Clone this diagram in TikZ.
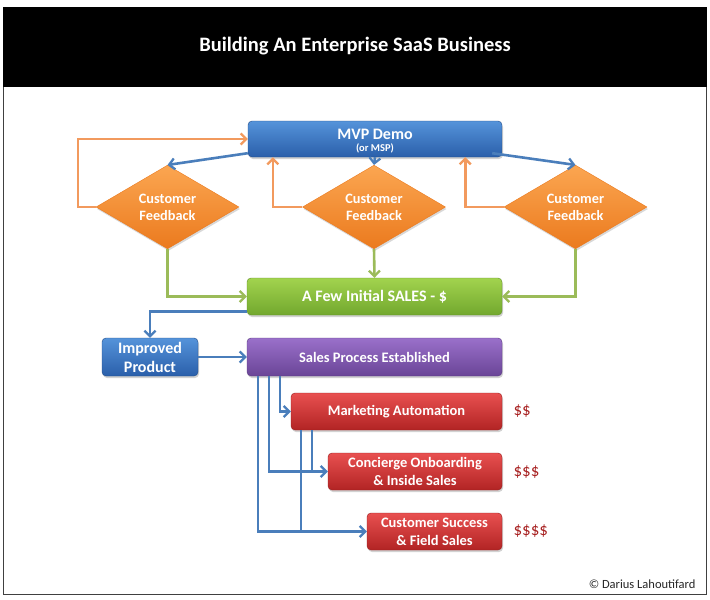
\documentclass[tikz,border=0pt]{standalone}
\usepackage{fontspec}
\setmainfont{Carlito}
\usetikzlibrary{shapes.geometric,arrows.meta,shadows}
\definecolor{mvpT}{HTML}{5593DA}
\definecolor{mvpB}{HTML}{2A5FAA}
\definecolor{orT}{HTML}{FBA651}
\definecolor{orB}{HTML}{EB7A1E}
\definecolor{grT}{HTML}{A2D34E}
\definecolor{grB}{HTML}{72A82E}
\definecolor{puT}{HTML}{9A70CA}
\definecolor{puB}{HTML}{6A4597}
\definecolor{reT}{HTML}{E85050}
\definecolor{reB}{HTML}{B22424}
\definecolor{cblue}{HTML}{4A7EBB}
\definecolor{corange}{HTML}{F29A5E}
\definecolor{cgreen}{HTML}{9BBB59}
\definecolor{cdollar}{HTML}{A82222}
\tikzset{
  box/.style={rectangle, rounded corners=4pt, inner sep=1pt, align=center,
    text=white, font=\bfseries\fontsize{14.5}{17.5}\selectfont,
    drop shadow={shadow xshift=1pt, shadow yshift=-2pt, opacity=0.35}},
  mvpbox/.style={box, top color=mvpT, bottom color=mvpB, draw=mvpB!80!black, line width=0.4pt},
  fbbox/.style={diamond, inner sep=0pt, minimum width=143pt, minimum height=54pt,
    align=center, text=white, font=\bfseries\fontsize{14.3}{17}\selectfont,
    top color=orT, bottom color=orB, draw=orB, line width=0.4pt,
    drop shadow={shadow xshift=1pt, shadow yshift=-2pt, opacity=0.3}},
  greenbox/.style={box, top color=grT, bottom color=grB, draw=grB!85!black, line width=0.4pt},
  purplebox/.style={box, top color=puT, bottom color=puB, draw=puB!85!black, line width=0.4pt},
  redbox/.style={box, top color=reT, bottom color=reB, draw=reB!85!black, line width=0.4pt},
  conn/.style={line width=2.6pt, -{Straight Barb[length=5.5pt,width=11pt,line width=2.3pt]}},
  bluearr/.style={conn, draw=cblue},
  orangearr/.style={conn, draw=corange},
  greenarr/.style={conn, draw=cgreen},
  bluejoin/.style={line width=2.6pt, draw=cblue},
  dollar/.style={anchor=west, text=cdollar, font=\fontsize{17}{19}\selectfont},
}
\begin{document}
\begin{tikzpicture}[x=1pt,y=-1pt]
\useasboundingbox (0,0) rectangle (710,600);
\fill[white] (0,0) rectangle (710,600);
\draw[line width=1pt, draw=black!75] (3.5,7.5) rectangle (706.5,594);
\fill[black] (3,7) rectangle (707,87);
\node[text=white, font=\bfseries\fontsize{20.5}{23}\selectfont] (title) at (355,46) {Building An Enterprise SaaS Business};

\node[mvpbox, minimum width=254pt, minimum height=36pt] (mvp) at (375,139) {};
\node[text=white, align=center, font=\bfseries, inner sep=0pt] (mvptext) at (375,141)
  {\fontsize{16}{16}\selectfont MVP Demo\\[0pt]{\fontsize{10.5}{11}\selectfont (or MSP)}};

\node[fbbox] (fbl) at (167.5,207) {Customer\\Feedback};
\node[fbbox] (fbm) at (374,207) {Customer\\Feedback};
\node[fbbox] (fbr) at (575.5,207) {Customer\\Feedback};

\node[greenbox, minimum width=255pt, minimum height=37pt, font=\bfseries\fontsize{16}{18}\selectfont] (sales) at (374.5,296.5) {A Few Initial SALES - \$};

\node[mvpbox, minimum width=96pt, minimum height=38pt, font=\bfseries\fontsize{16}{19}\selectfont] (imp) at (150,357) {Improved\\Product};
\node[purplebox, minimum width=255pt, minimum height=38pt] (proc) at (374.5,357) {Sales Process Established};

\node[redbox, minimum width=211pt, minimum height=37pt] (mkt) at (396.5,411.5) {Marketing Automation};
\node[redbox, minimum width=174pt, minimum height=37pt, font=\bfseries\fontsize{14.5}{18}\selectfont] (con) at (415,471.5) {Concierge Onboarding\\\& Inside Sales};
\node[redbox, minimum width=135pt, minimum height=37pt, font=\bfseries\fontsize{14.5}{18}\selectfont] (cs) at (434.5,531.5) {Customer Success\\\& Field Sales};

\node[dollar] (d2) at (510,411) {\$\$};
\node[dollar] (d3) at (510,472) {\$\$\$};
\node[dollar] (d4) at (510,531) {\$\$\$\$};

\node[anchor=east, font=\fontsize{12.5}{14}\selectfont, text=black!85] (copy) at (699,584) {© Darius Lahoutifard};

% blue from MVP
\draw[bluearr] ([yshift=4pt]mvp.south west) -- (fbl.north);
\draw[bluearr] (mvp.south) -- (fbm.north);
\draw[bluearr] ([xshift=-10pt,yshift=4pt]mvp.south east) -- (fbr.north);
% orange feedback
\draw[orangearr] (fbl.west) -- ++(-18,0) |- (mvp.west);
\draw[orangearr] (fbm.west) -| ([xshift=25pt]mvp.south west);
\draw[orangearr] (fbr.west) -| ([xshift=-37pt]mvp.south east);
% green
\draw[greenarr] (fbl.south) |- (sales.west);
\draw[greenarr] (fbm.south) -- (sales.north);
\draw[greenarr] (fbr.south) |- (sales.east);
% blue lower
\draw[bluearr] ([yshift=4pt]sales.south west) -| (imp.north);
\draw[bluearr] (imp.east) -- (proc.west);
\draw[bluearr] ([xshift=33pt]proc.south west) |- (mkt.west);
\draw[bluearr] ([xshift=22pt]proc.south west) |- (con.west);
\draw[bluearr] ([xshift=11pt]proc.south west) |- (cs.west);
\draw[bluejoin] ([xshift=21pt]mkt.south west) |- ([xshift=-6pt]con.west);
\draw[bluejoin] ([xshift=10pt]mkt.south west) |- ([xshift=-6pt]cs.west);
\end{tikzpicture}
\end{document}
